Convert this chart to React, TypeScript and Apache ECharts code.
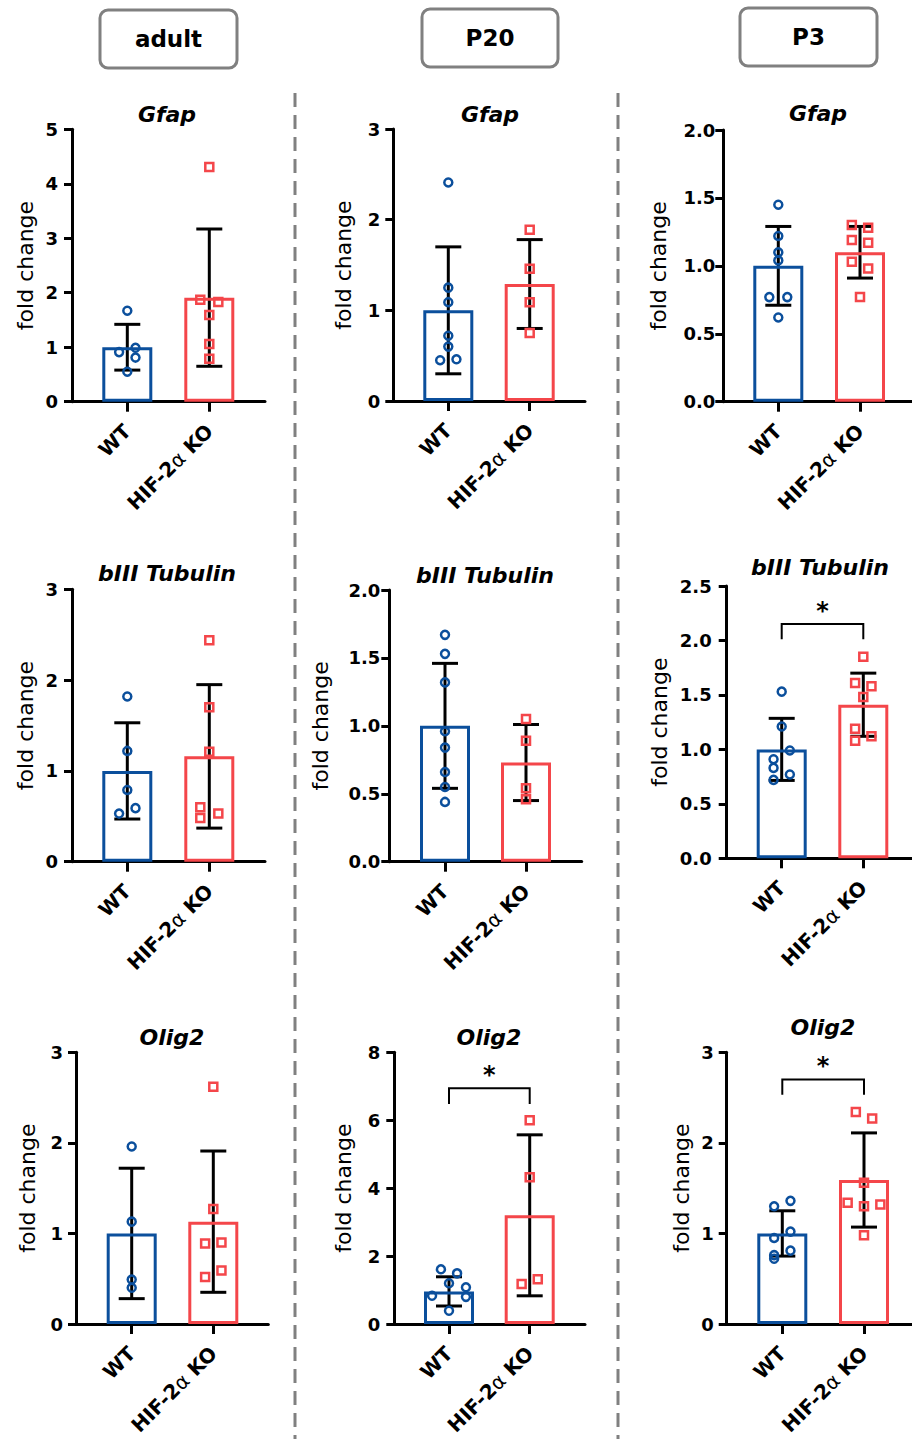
import React, { useEffect, useRef } from "react";
import * as echarts from "echarts";

// ---------- text ----------
const GROUPS = ["WT", "HIF-2α KO"];
const STAGES = ["adult", "P20", "P3"];
const GENES = ["Gfap", "bIII Tubulin", "Olig2"];
const AXIS_TITLE = "fold change";
const SIG_LABEL = "*";

// ---------- data (fold change) ----------
// Gfap
const gfapAdultWT = [1.67, 0.91, 0.99, 0.81, 0.55];
const gfapAdultWTx = [0, -0.1, 0.1, 0.1, 0];
const gfapAdultKO = [4.31, 1.87, 1.83, 1.59, 1.06, 0.79];
const gfapAdultKOx = [0, -0.11, 0.11, 0, 0, 0];
const gfapAdultMean = [1.0, 1.91];
const gfapAdultSD = [0.42, 1.26];
const gfapAdultAxis = [0, 5, 1];

const gfapP20WT = [2.41, 1.25, 1.09, 0.72, 0.6, 0.45, 0.46];
const gfapP20WTx = [0, 0, 0, 0, 0, -0.1, 0.1];
const gfapP20KO = [1.89, 1.46, 1.09, 0.75];
const gfapP20KOx = [0, 0, 0, 0];
const gfapP20Mean = [1.0, 1.29];
const gfapP20SD = [0.7, 0.49];
const gfapP20Axis = [0, 3, 1];

const gfapP3WT = [1.45, 1.22, 1.1, 1.04, 0.77, 0.77, 0.62];
const gfapP3WTx = [0, 0, 0, 0, -0.11, 0.11, 0];
const gfapP3KO = [1.3, 1.28, 1.19, 1.17, 1.03, 0.98, 0.77];
const gfapP3KOx = [-0.1, 0.1, -0.1, 0.1, -0.1, 0.1, 0];
const gfapP3Mean = [1.0, 1.1];
const gfapP3SD = [0.29, 0.19];
const gfapP3Axis = [0, 2, 0.5];

// bIII Tubulin
const tubAdultWT = [1.82, 1.22, 0.79, 0.53, 0.59];
const tubAdultWTx = [0, 0, 0, -0.1, 0.1];
const tubAdultKO = [2.44, 1.7, 1.21, 0.6, 0.48, 0.53];
const tubAdultKOx = [0, 0, 0, -0.11, -0.11, 0.11];
const tubAdultMean = [1.0, 1.16];
const tubAdultSD = [0.53, 0.79];
const tubAdultAxis = [0, 3, 1];

const tubP20WT = [1.67, 1.53, 1.32, 0.96, 0.84, 0.66, 0.55, 0.44];
const tubP20WTx = [0, 0, 0, 0, 0, 0, 0, 0];
const tubP20KO = [1.05, 0.89, 0.54, 0.46];
const tubP20KOx = [0, 0, 0, 0];
const tubP20Mean = [1.0, 0.73];
const tubP20SD = [0.46, 0.28];
const tubP20Axis = [0, 2, 0.5];

const tubP3WT = [1.53, 1.21, 0.99, 0.91, 0.83, 0.77, 0.72];
const tubP3WTx = [0, 0, 0.1, -0.1, -0.1, 0.1, -0.1];
const tubP3KO = [1.85, 1.61, 1.58, 1.48, 1.19, 1.08, 1.12];
const tubP3KOx = [0, -0.1, 0.1, 0, -0.1, -0.1, 0.1];
const tubP3Mean = [1.0, 1.41];
const tubP3SD = [0.285, 0.29];
const tubP3Axis = [0, 2.5, 0.5];
const tubP3Sig = [2.15, 2.01]; // bracket level, leg end

// Olig2
const oligAdultWT = [1.96, 1.13, 0.49, 0.4];
const oligAdultWTx = [0, 0, 0, 0];
const oligAdultKO = [2.62, 1.27, 0.89, 0.9, 0.52, 0.59];
const oligAdultKOx = [0, 0, -0.1, 0.1, -0.1, 0.1];
const oligAdultMean = [1.0, 1.13];
const oligAdultSD = [0.72, 0.78];
const oligAdultAxis = [0, 3, 1];

const oligP20WT = [1.61, 1.49, 1.2, 1.08, 0.83, 0.8, 0.39];
const oligP20WTx = [-0.1, 0.1, 0, 0.21, -0.21, 0.21, 0];
const oligP20KO = [6.0, 4.32, 1.18, 1.32];
const oligP20KOx = [0, 0, -0.1, 0.1];
const oligP20Mean = [0.96, 3.2];
const oligP20SD = [0.43, 2.37];
const oligP20Axis = [0, 8, 2];
const oligP20Sig = [6.94, 6.48];

const oligP3WT = [1.3, 1.36, 1.02, 0.95, 0.81, 0.76, 0.72];
const oligP3WTx = [-0.1, 0.1, 0.1, -0.1, 0.1, -0.1, -0.1];
const oligP3KO = [2.34, 2.27, 1.56, 1.34, 1.3, 1.32, 0.98];
const oligP3KOx = [-0.1, 0.1, 0, -0.2, 0, 0.2, 0];
const oligP3Mean = [1.0, 1.59];
const oligP3SD = [0.25, 0.52];
const oligP3Axis = [0, 3, 1];
const oligP3Sig = [2.7, 2.53];

// ---------- layout (pixels) ----------
type Layout = {
  yx: number; xe: number; top: number; zero: number; c0: number; c1: number;
  nameGap: number; labelMargin: number; tx: number; ty: number;
};

const layouts: Layout[] = [
  { yx: 72, xe: 265, top: 129.3, zero: 401.7, c0: 127.3, c1: 209.3, nameGap: 36, labelMargin: 14, tx: 167, ty: 114 },
  { yx: 393.3, xe: 585, top: 129, zero: 401, c0: 448.3, c1: 529.7, nameGap: 39, labelMargin: 13, tx: 490, ty: 114 },
  { yx: 723.3, xe: 912, top: 130, zero: 401.7, c0: 778.3, c1: 860, nameGap: 54, labelMargin: 8, tx: 818, ty: 113 },
  { yx: 72, xe: 265, top: 589.3, zero: 861.7, c0: 127.3, c1: 209.3, nameGap: 36, labelMargin: 14, tx: 167, ty: 573 },
  { yx: 389.3, xe: 581.7, top: 590, zero: 861.7, c0: 445, c1: 526, nameGap: 58, labelMargin: 9, tx: 485, ty: 575 },
  { yx: 726.7, xe: 912, top: 586, zero: 858.3, c0: 781.7, c1: 863.3, nameGap: 56, labelMargin: 15, tx: 820, ty: 567 },
  { yx: 76, xe: 268.3, top: 1052.3, zero: 1324, c0: 131.7, c1: 213.3, nameGap: 38, labelMargin: 13, tx: 172, ty: 1037 },
  { yx: 394.3, xe: 585, top: 1052.3, zero: 1324, c0: 449, c1: 529.7, nameGap: 40, labelMargin: 14, tx: 489, ty: 1037 },
  { yx: 726.7, xe: 912, top: 1052.3, zero: 1324, c0: 782.3, c1: 864, nameGap: 34, labelMargin: 13, tx: 823, ty: 1027 },
];

const headerBoxes = [
  { x: 100, y: 10, w: 137, h: 58 },
  { x: 422, y: 9, w: 136, h: 58 },
  { x: 740, y: 8, w: 137, h: 58 },
];
const dividerX = [295, 618];

type Panel = {
  gene: string; stage: string;
  wt: number[]; wtx: number[]; ko: number[]; kox: number[];
  mean: number[]; sd: number[]; axis: number[]; sig?: number[];
};

const panels: Panel[] = [
  { gene: GENES[0], stage: STAGES[0], wt: gfapAdultWT, wtx: gfapAdultWTx, ko: gfapAdultKO, kox: gfapAdultKOx, mean: gfapAdultMean, sd: gfapAdultSD, axis: gfapAdultAxis },
  { gene: GENES[0], stage: STAGES[1], wt: gfapP20WT, wtx: gfapP20WTx, ko: gfapP20KO, kox: gfapP20KOx, mean: gfapP20Mean, sd: gfapP20SD, axis: gfapP20Axis },
  { gene: GENES[0], stage: STAGES[2], wt: gfapP3WT, wtx: gfapP3WTx, ko: gfapP3KO, kox: gfapP3KOx, mean: gfapP3Mean, sd: gfapP3SD, axis: gfapP3Axis },
  { gene: GENES[1], stage: STAGES[0], wt: tubAdultWT, wtx: tubAdultWTx, ko: tubAdultKO, kox: tubAdultKOx, mean: tubAdultMean, sd: tubAdultSD, axis: tubAdultAxis },
  { gene: GENES[1], stage: STAGES[1], wt: tubP20WT, wtx: tubP20WTx, ko: tubP20KO, kox: tubP20KOx, mean: tubP20Mean, sd: tubP20SD, axis: tubP20Axis },
  { gene: GENES[1], stage: STAGES[2], wt: tubP3WT, wtx: tubP3WTx, ko: tubP3KO, kox: tubP3KOx, mean: tubP3Mean, sd: tubP3SD, axis: tubP3Axis, sig: tubP3Sig },
  { gene: GENES[2], stage: STAGES[0], wt: oligAdultWT, wtx: oligAdultWTx, ko: oligAdultKO, kox: oligAdultKOx, mean: oligAdultMean, sd: oligAdultSD, axis: oligAdultAxis },
  { gene: GENES[2], stage: STAGES[1], wt: oligP20WT, wtx: oligP20WTx, ko: oligP20KO, kox: oligP20KOx, mean: oligP20Mean, sd: oligP20SD, axis: oligP20Axis, sig: oligP20Sig },
  { gene: GENES[2], stage: STAGES[2], wt: oligP3WT, wtx: oligP3WTx, ko: oligP3KO, kox: oligP3KOx, mean: oligP3Mean, sd: oligP3SD, axis: oligP3Axis, sig: oligP3Sig },
];

// ---------- styles ----------
const BLUE = "#0b4f9c";
const RED = "#f4464a";
const GRAY = "#808080";
const FONT = '"DejaVu Sans", "Liberation Sans", sans-serif';
const W = 912;
const H = 1439;

function buildOption() {
  const grid: any[] = [];
  const xAxis: any[] = [];
  const yAxis: any[] = [];
  const series: any[] = [];
  const graphic: any[] = [];

  panels.forEach((p, i) => {
    const L = layouts[i];
    const h = L.zero - L.top;
    const band = L.c1 - L.c0;
    const gA = 2 * i;
    const gB = 2 * i + 1;
    const xCat = 3 * i + 1;
    const xVal = 3 * i + 2;
    const yB = 2 * i + 1;
    const [ymin, ymax, step] = p.axis;

    grid.push({ left: L.yx, top: L.top, width: L.xe - L.yx, height: h });
    grid.push({ left: L.c0 - band / 2, top: L.top, width: band * 2, height: h });

    xAxis.push({
      gridIndex: gA, type: "value", min: 0, max: 1,
      axisLine: { show: true, onZero: false, lineStyle: { color: "#000", width: 3 } },
      axisTick: { show: false }, axisLabel: { show: false }, splitLine: { show: false },
    });
    xAxis.push({
      gridIndex: gB, type: "category", data: GROUPS, position: "bottom",
      axisLine: { show: false },
      axisTick: { show: true, alignWithLabel: true, length: 10, lineStyle: { color: "#000", width: 3 } },
      axisLabel: {
        interval: 0, rotate: 45, margin: 26, color: "#000",
        fontFamily: FONT, fontWeight: "bold", fontSize: 20,
        formatter: (v: string) => v.replace("α", "{a|α}"),
        rich: { a: { fontFamily: FONT, fontWeight: "normal", fontSize: 20, color: "#000" } },
      },
      splitLine: { show: false },
    });
    xAxis.push({ gridIndex: gB, type: "value", min: -0.5, max: 1.5, show: false });

    yAxis.push({
      gridIndex: gA, type: "value", min: ymin, max: ymax, interval: step,
      name: AXIS_TITLE, nameLocation: "middle", nameGap: L.nameGap,
      nameTextStyle: { fontFamily: FONT, fontSize: 22, color: "#000" },
      axisLine: { show: true, onZero: false, lineStyle: { color: "#000", width: 3 } },
      axisTick: { show: true, length: 8, lineStyle: { color: "#000", width: 3 } },
      axisLabel: {
        margin: L.labelMargin, color: "#000", fontFamily: FONT, fontWeight: "bold", fontSize: 18,
        formatter: (v: number) => (step < 1 ? v.toFixed(1) : String(v)),
      },
      splitLine: { show: false },
    });
    yAxis.push({ gridIndex: gB, type: "value", min: ymin, max: ymax, show: false });

    // bars (mean)
    series.push({
      type: "bar", xAxisIndex: xCat, yAxisIndex: yB, barWidth: 50, silent: true,
      data: p.mean.map((m, k) => ({
        value: m,
        itemStyle: { color: "rgba(0,0,0,0)", borderColor: k === 0 ? BLUE : RED, borderWidth: 3 },
      })),
    });

    // individual points
    series.push({
      type: "scatter", xAxisIndex: xVal, yAxisIndex: yB, silent: true,
      symbol: "circle", symbolSize: 8,
      itemStyle: { color: "rgba(0,0,0,0)", borderColor: BLUE, borderWidth: 2.5, opacity: 1 },
      data: p.wt.map((v, k) => [0 + p.wtx[k], v]),
    });
    series.push({
      type: "scatter", xAxisIndex: xVal, yAxisIndex: yB, silent: true,
      symbol: "rect", symbolSize: 8,
      itemStyle: { color: "rgba(0,0,0,0)", borderColor: RED, borderWidth: 2.5, opacity: 1 },
      data: p.ko.map((v, k) => [1 + p.kox[k], v]),
    });

    // error bars (mean ± SD)
    series.push({
      type: "custom", xAxisIndex: xCat, yAxisIndex: yB, silent: true,
      data: p.mean.map((m, k) => [k, m, p.sd[k]]),
      renderItem: (params: any, api: any) => {
        const x = api.value(0);
        const m = api.value(1);
        const s = api.value(2);
        const t = api.coord([x, m + s]);
        const b = api.coord([x, m - s]);
        const cap = 13;
        const st = { stroke: "#000", lineWidth: 3 };
        return {
          type: "group",
          children: [
            { type: "line", shape: { x1: t[0], y1: t[1], x2: b[0], y2: b[1] }, style: st },
            { type: "line", shape: { x1: t[0] - cap, y1: t[1], x2: t[0] + cap, y2: t[1] }, style: st },
            { type: "line", shape: { x1: b[0] - cap, y1: b[1], x2: b[0] + cap, y2: b[1] }, style: st },
          ],
        };
      },
    });

    // significance bracket
    if (p.sig) {
      series.push({
        type: "custom", xAxisIndex: xCat, yAxisIndex: yB, silent: true,
        data: [[0, p.sig[0], p.sig[1]]],
        renderItem: (params: any, api: any) => {
          const top = api.value(1);
          const leg = api.value(2);
          const a = api.coord([0, leg]);
          const b = api.coord([0, top]);
          const c = api.coord([1, top]);
          const d = api.coord([1, leg]);
          return {
            type: "group",
            children: [
              {
                type: "polyline",
                shape: { points: [a, b, c, d] },
                style: { stroke: "#000", lineWidth: 2, fill: "none" },
              },
              {
                type: "text",
                style: {
                  text: SIG_LABEL, x: (b[0] + c[0]) / 2, y: b[1] - 13,
                  align: "center", verticalAlign: "middle",
                  fontFamily: FONT, fontWeight: "bold", fontSize: 24, fill: "#000",
                },
              },
            ],
          };
        },
      });
    }

    // panel title
    graphic.push({
      type: "text", silent: true,
      style: {
        text: p.gene, x: L.tx, y: L.ty, align: "center", verticalAlign: "middle",
        fontFamily: FONT, fontWeight: "bold", fontStyle: "italic", fontSize: 22, fill: "#000",
      },
    });
  });

  // column headers
  STAGES.forEach((s, i) => {
    const b = headerBoxes[i];
    graphic.push({
      type: "rect", silent: true,
      shape: { x: b.x, y: b.y, width: b.w, height: b.h, r: 8 },
      style: { fill: "#fff", stroke: GRAY, lineWidth: 3 },
    });
    graphic.push({
      type: "text", silent: true,
      style: {
        text: s, x: b.x + b.w / 2, y: b.y + b.h / 2, align: "center", verticalAlign: "middle",
        fontFamily: FONT, fontWeight: "bold", fontSize: 23, fill: "#000",
      },
    });
  });

  // dashed dividers
  dividerX.forEach((x) => {
    graphic.push({
      type: "line", silent: true,
      shape: { x1: x, y1: 93, x2: x, y2: H },
      style: { stroke: GRAY, lineWidth: 3, lineDash: [14, 8] },
    });
  });

  return {
    animation: false,
    backgroundColor: "#fff",
    grid, xAxis, yAxis, series, graphic,
  };
}

export default function App() {
  const ref = useRef<HTMLDivElement>(null);
  useEffect(() => {
    if (!ref.current) return;
    const chart = echarts.init(ref.current, undefined, { renderer: "svg", width: W, height: H });
    chart.setOption(buildOption() as any);
    return () => chart.dispose();
  }, []);
  return (
    <div
      ref={ref}
      style={{ position: "absolute", left: 0, top: 0, width: W, height: H, background: "#fff" }}
    />
  );
}
